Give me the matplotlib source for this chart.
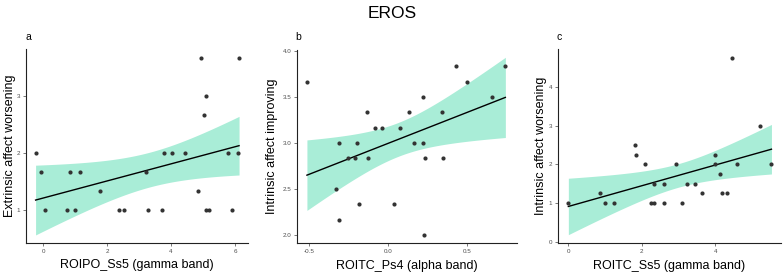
import numpy as np
import matplotlib
matplotlib.use('Agg')
import matplotlib.pyplot as plt

plt.rcParams['font.family'] = ['Liberation Sans', 'DejaVu Sans']

title = "EROS"
panel_letters = ["a", "b", "c"]
x_labels = ["ROIPO_Ss5 (gamma band)", "ROITC_Ps4 (alpha band)", "ROITC_Ss5 (gamma band)"]
y_labels = ["Extrinsic affect worsening", "Intrinsic affect improving", "Intrinsic affect worsening"]

a_x = [-0.24, -0.06, 0.06, 0.73, 0.83, 1.0, 1.16, 1.79, 2.38, 2.53, 3.21, 3.29, 3.71,
       3.78, 4.03, 4.43, 4.84, 4.95, 5.02, 5.10, 5.10, 5.20, 5.77, 5.92, 6.10, 6.13]
a_y = [2.0, 1.667, 1.0, 1.0, 1.667, 1.0, 1.667, 1.333, 1.0, 1.0, 1.667, 1.0, 1.0,
       2.0, 2.0, 2.0, 1.333, 3.667, 2.667, 3.0, 1.0, 1.0, 2.0, 1.0, 2.0, 3.667]

b_x = [-0.515, -0.309, -0.328, -0.314, -0.254, -0.212, -0.195, -0.184, -0.136, -0.125,
       -0.081, -0.038, 0.038, 0.076, 0.135, 0.165, 0.225, 0.225, 0.229, 0.235, 0.345,
       0.352, 0.434, 0.502, 0.659, 0.746]
b_y = [3.667, 3.0, 2.5, 2.167, 2.833, 2.833, 3.0, 2.333, 3.333, 2.833,
       3.167, 3.167, 2.333, 3.167, 3.333, 3.0, 3.5, 3.0, 2.0, 2.833, 3.333,
       2.833, 3.833, 3.667, 3.5, 3.833]

c_x = [0.0, 0.87, 1.0, 1.23, 1.81, 1.84, 2.09, 2.24, 2.34, 2.34, 2.60, 2.60, 2.94,
       3.10, 3.22, 3.44, 3.63, 4.0, 4.0, 4.12, 4.19, 4.33, 4.45, 4.60, 5.21, 5.53]
c_y = [1.0, 1.25, 1.0, 1.0, 2.5, 2.25, 2.0, 1.0, 1.0, 1.5, 1.5, 1.0, 2.0,
       1.0, 1.5, 1.5, 1.25, 2.25, 2.0, 1.75, 1.25, 1.25, 4.75, 2.0, 3.0, 2.0]

a_xticks = [0, 2, 4, 6]
a_yticks = [1, 2, 3]
b_xticks = [-0.5, 0.0, 0.5]
b_yticks = [2.0, 2.5, 3.0, 3.5, 4.0]
c_xticks = [0, 2, 4]
c_yticks = [0, 1, 2, 3, 4]

W, H = 784, 273
fig = plt.figure(figsize=(W / 100, H / 100), dpi=100)

def px_axes(l, r, t, b):
    return fig.add_axes([l / W, 1 - b / H, (r - l) / W, (b - t) / H])

panels = [
    dict(rect=(26, 248, 49, 243), x=a_x, y=a_y, xt=a_xticks, yt=a_yticks,
         xl=(-0.54, 6.41), yl=(0.416, 3.82), fmt="{:g}", ylc=-0.072),
    dict(rect=(296.7, 517, 50, 243.3), x=b_x, y=b_y, xt=b_xticks, yt=b_yticks,
         xl=(-0.58, 0.82), yl=(1.91, 4.01), fmt="{:.1f}", ylc=-0.113),
    dict(rect=(557.7, 781, 49, 243.3), x=c_x, y=c_y, xt=c_xticks, yt=c_yticks,
         xl=(-0.29, 5.79), yl=(-0.04, 4.98), fmt="{:g}", ylc=-0.076),
]

T975 = 2.0639  # t quantile, df = 24

for i, p in enumerate(panels):
    l, r, t, b = p['rect']
    ax = px_axes(l, r, t, b)
    x = np.array(p['x']); y = np.array(p['y'])
    n = len(x)
    b1, b0 = np.polyfit(x, y, 1)
    resid = y - (b0 + b1 * x)
    s = np.sqrt(np.sum(resid ** 2) / (n - 2))
    xg = np.linspace(x.min(), x.max(), 80)
    yg = b0 + b1 * xg
    se = s * np.sqrt(1 / n + (xg - x.mean()) ** 2 / np.sum((x - x.mean()) ** 2))
    ax.fill_between(xg, yg - T975 * se, yg + T975 * se, color='#a9edd7', lw=0, zorder=1)
    ax.plot(xg, yg, color='black', lw=1.0, zorder=2)
    ax.scatter(x, y, s=9, color='#333333', lw=0, zorder=3)
    ax.set_xlim(p['xl']); ax.set_ylim(p['yl'])
    ax.set_xticks(p['xt']); ax.set_yticks(p['yt'])
    ax.set_xticklabels([p['fmt'].format(v) for v in p['xt']])
    ax.set_yticklabels([p['fmt'].format(v) for v in p['yt']])
    for sp in ['top', 'right']:
        ax.spines[sp].set_visible(False)
    for sp in ['left', 'bottom']:
        ax.spines[sp].set_color('#222222')
        ax.spines[sp].set_linewidth(0.8)
    ax.tick_params(axis='both', length=2, width=0.5, color='#444444',
                   labelsize=4.5, labelcolor='#4d4d4d', pad=2)
    ax.set_xlabel(x_labels[i], fontsize=9)
    ax.set_ylabel(y_labels[i], fontsize=9)
    ax.xaxis.set_label_coords(0.5, -0.115)
    ax.xaxis.label.set_va('center')
    ax.yaxis.set_label_coords(p['ylc'], 0.5)
    ax.yaxis.label.set_va('center')
    fig.text((l - 1) / W, 1 - 37 / H, panel_letters[i], fontsize=7.5,
             ha='left', va='center')

fig.text(392 / W, 1 - 13 / H, title, fontsize=12.5, ha='center', va='center')

fig.savefig('out.png', dpi=100)
